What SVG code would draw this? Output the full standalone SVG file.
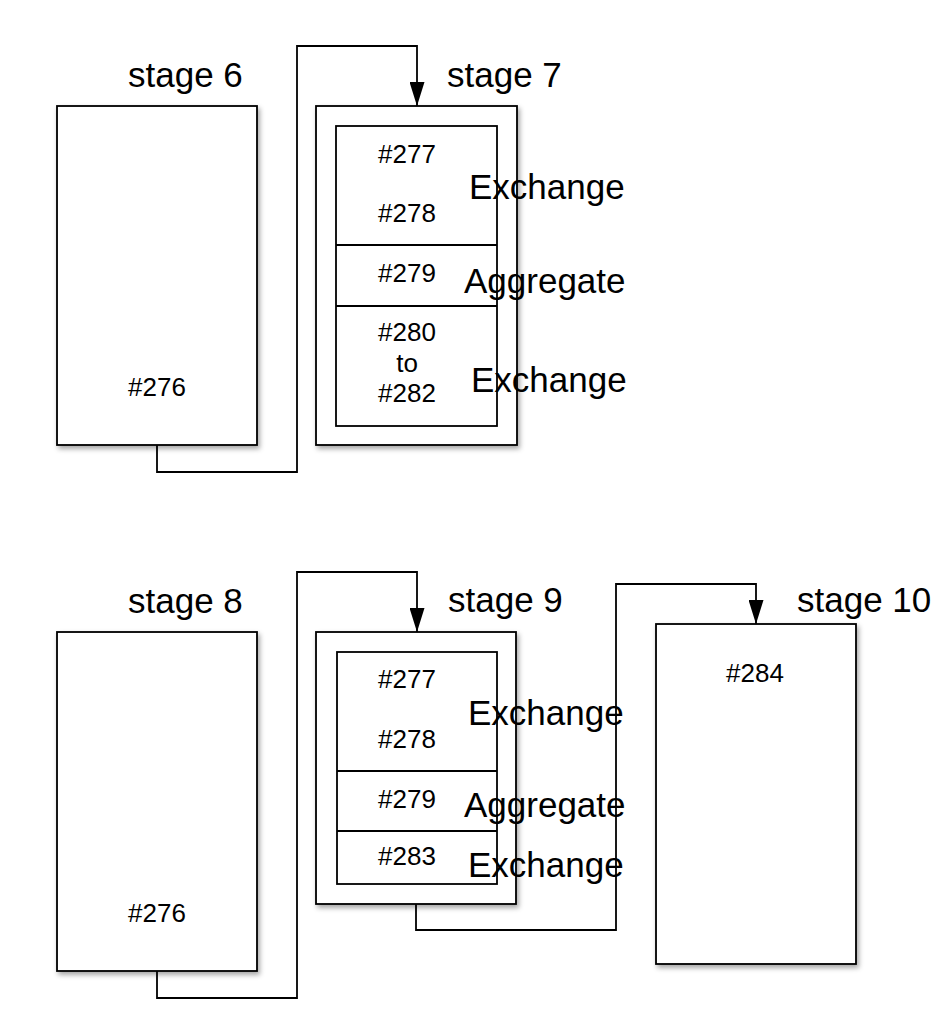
<svg xmlns="http://www.w3.org/2000/svg" width="948" height="1024" viewBox="0 0 948 1024">
<style>
.box{fill:#fff;stroke:#000;stroke-width:1.8}
.shadow{filter:url(#sh)}
.conn{fill:none;stroke:#000;stroke-width:1.8}
.stage{font-family:"Liberation Sans",Arial,sans-serif;font-size:35px;fill:#000}
.num{font-family:"Liberation Sans",Arial,sans-serif;font-size:26px;fill:#000;text-anchor:middle}
.op{font-family:"Liberation Sans",Arial,sans-serif;font-size:35px;fill:#000}
</style>
<defs>
<filter id="sh" x="-10%" y="-10%" width="130%" height="130%">
<feDropShadow dx="2" dy="3" stdDeviation="2.5" flood-color="#000" flood-opacity="0.35"/>
</filter>
<marker id="arr" markerUnits="userSpaceOnUse" markerWidth="24" markerHeight="15" refX="24" refY="7.5" orient="auto" viewBox="0 0 24 15">
<path d="M0,0 L24,7.5 L0,15 Z" fill="#000"/>
</marker>
</defs>
<g id="connectors">
<polyline class="conn" points="157,445 157,472 297,472 297,46 417,46 417,106" marker-end="url(#arr)"/>
<polyline class="conn" points="157,971 157,998 297,998 297,572 417,572 417,632" marker-end="url(#arr)"/>
<polyline class="conn" points="416,904 416,930 616,930 616,584 756,584 756,624" marker-end="url(#arr)"/>
</g>
<g id="stage6">
<rect class="box shadow" x="57" y="106" width="200" height="339"/>
<text class="stage" x="128" y="87">stage 6</text>
<text class="num" x="157" y="396">#276</text>
</g>
<g id="stage7">
<rect class="box shadow" x="316" y="106" width="201" height="339"/>
<rect class="box" x="336" y="126" width="161" height="300"/>
<line class="conn" x1="336" y1="245" x2="497" y2="245"/>
<line class="conn" x1="336" y1="306" x2="497" y2="306"/>
<text class="stage" x="447" y="87">stage 7</text>
<text class="num" x="407" y="163">#277</text>
<text class="num" x="407" y="222">#278</text>
<text class="num" x="407" y="282">#279</text>
<text class="num" x="407" y="341">#280</text>
<text class="num" x="407" y="372">to</text>
<text class="num" x="407" y="402">#282</text>
<text class="op" x="469" y="199">Exchange</text>
<text class="op" x="464" y="293">Aggregate</text>
<text class="op" x="471" y="392">Exchange</text>
</g>
<g id="stage8">
<rect class="box shadow" x="57" y="632" width="200" height="339"/>
<text class="stage" x="128" y="613">stage 8</text>
<text class="num" x="157" y="922">#276</text>
</g>
<g id="stage9">
<rect class="box shadow" x="316" y="632" width="200" height="272"/>
<rect class="box" x="337" y="652" width="160" height="232"/>
<line class="conn" x1="337" y1="771" x2="497" y2="771"/>
<line class="conn" x1="337" y1="831" x2="497" y2="831"/>
<text class="stage" x="448" y="612">stage 9</text>
<text class="num" x="407" y="688">#277</text>
<text class="num" x="407" y="748">#278</text>
<text class="num" x="407" y="808">#279</text>
<text class="num" x="407" y="865">#283</text>
<text class="op" x="468" y="725">Exchange</text>
<text class="op" x="464" y="817">Aggregate</text>
<text class="op" x="468" y="877">Exchange</text>
</g>
<g id="stage10">
<rect class="box shadow" x="656" y="624" width="200" height="340"/>
<text class="stage" x="797" y="612">stage 10</text>
<text class="num" x="755" y="682">#284</text>
</g>
</svg>
